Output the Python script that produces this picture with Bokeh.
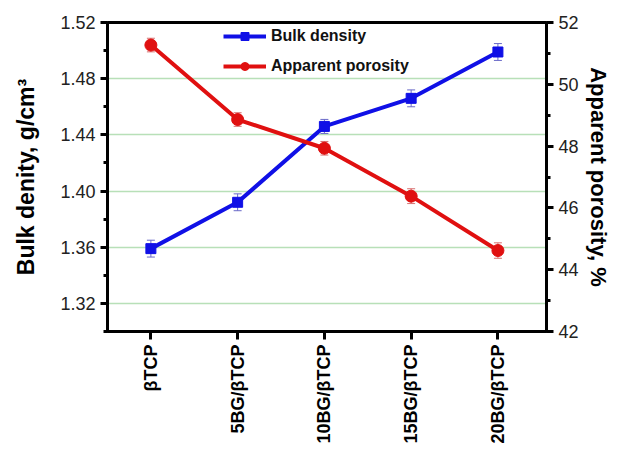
import math
from bokeh.plotting import figure
from bokeh.models import (Range1d, LinearAxis, FixedTicker, Whisker, ColumnDataSource,
                          Legend, LegendItem, NumeralTickFormatter)
from bokeh.embed import file_html
from bokeh.resources import INLINE

categories = ["βTCP", "5BG/βTCP", "10BG/βTCP", "15BG/βTCP", "20BG/βTCP"]
bulk_density = [1.359, 1.392, 1.446, 1.466, 1.499]
bulk_err = [0.006, 0.006, 0.005, 0.006, 0.006]
porosity = [51.27, 48.86, 47.93, 46.38, 44.62]
porosity_err = [0.22, 0.22, 0.22, 0.24, 0.25]
left_ticks = [1.32, 1.36, 1.40, 1.44, 1.48, 1.52]
left_minor = [1.30, 1.34, 1.38, 1.42, 1.46, 1.50]
right_ticks = [42, 44, 46, 48, 50, 52]
right_minor = [43, 45, 47, 49, 51]

FONT = "Liberation Sans"
xs = list(range(len(categories)))

p = figure(width=613, height=446, output_backend="svg", toolbar_location=None,
           x_range=Range1d(-0.5, 4.56), y_range=Range1d(1.30, 1.52),
           min_border_left=107, min_border_right=64, min_border_top=22, min_border_bottom=113)
p.extra_y_ranges = {"por": Range1d(42, 52)}

p.outline_line_color = "black"
p.outline_line_width = 3
p.background_fill_color = "white"
p.border_fill_color = "white"

# x axis
xa = p.xaxis[0]
xa.ticker = FixedTicker(ticks=xs)
xa.major_label_overrides = {i: c for i, c in enumerate(categories)}
xa.major_label_orientation = math.pi / 2
xa.major_label_text_font = FONT
xa.major_label_text_font_style = "bold"
xa.major_label_text_font_size = "18px"
xa.major_label_text_color = "black"
xa.axis_line_width = 3
xa.major_tick_line_width = 3
xa.major_tick_out = 8
xa.major_tick_in = 0
xa.minor_tick_line_color = None

# left axis
ya = p.yaxis[0]
ya.ticker = FixedTicker(ticks=left_ticks, minor_ticks=left_minor)
ya.formatter = NumeralTickFormatter(format="0.00")
ya.axis_label = "Bulk denity, g/cm³"
ya.axis_label_text_font = FONT
ya.axis_label_text_font_style = "bold"
ya.axis_label_text_font_size = "23px"
ya.axis_label_text_color = "black"
ya.axis_label_standoff = 18
ya.major_label_text_font = FONT
ya.major_label_text_font_size = "18px"
ya.major_label_text_color = "#222"
ya.axis_line_width = 3
ya.major_tick_line_width = 3
ya.major_tick_out = 7
ya.major_tick_in = 0
ya.minor_tick_line_width = 3
ya.minor_tick_out = 4
ya.minor_tick_in = 0

# right axis
ra = LinearAxis(y_range_name="por", ticker=FixedTicker(ticks=right_ticks, minor_ticks=right_minor))
ra.axis_label = "Apparent porosity, %"
ra.axis_label_text_font = FONT
ra.axis_label_text_font_style = "bold"
ra.axis_label_text_font_size = "22px"
ra.axis_label_text_color = "black"
ra.axis_label_standoff = 4
ra.major_label_text_font = FONT
ra.major_label_text_font_size = "18px"
ra.major_label_text_color = "#222"
ra.axis_line_width = 3
ra.major_tick_line_width = 3
ra.major_tick_out = 7
ra.major_tick_in = 0
ra.minor_tick_line_width = 3
ra.minor_tick_out = 4
ra.minor_tick_in = 0
p.add_layout(ra, "right")

p.xgrid.grid_line_color = None
p.ygrid.grid_line_color = "#b8e0b8"
p.ygrid.grid_line_width = 1.5

# data
src_b = ColumnDataSource(dict(x=xs, y=bulk_density,
                              lo=[v - e for v, e in zip(bulk_density, bulk_err)],
                              hi=[v + e for v, e in zip(bulk_density, bulk_err)]))
src_p = ColumnDataSource(dict(x=xs, y=porosity,
                              lo=[v - e for v, e in zip(porosity, porosity_err)],
                              hi=[v + e for v, e in zip(porosity, porosity_err)]))

wb = Whisker(source=src_b, base="x", lower="lo", upper="hi",
             line_color="#6a6ac8", line_width=1)
wb.upper_head.line_color = "#6a6ac8"; wb.lower_head.line_color = "#6a6ac8"
wb.upper_head.size = 8; wb.lower_head.size = 8
p.add_layout(wb)
wp = Whisker(source=src_p, base="x", lower="lo", upper="hi", y_range_name="por",
             line_color="#d87070", line_width=1)
wp.upper_head.line_color = "#d87070"; wp.lower_head.line_color = "#d87070"
wp.upper_head.size = 8; wp.lower_head.size = 8
p.add_layout(wp)

BLUE = "#1010e6"
RED = "#e01010"
lb = p.line("x", "y", source=src_b, line_color=BLUE, line_width=4)
sb = p.scatter("x", "y", source=src_b, marker="square", size=10, fill_color=BLUE, line_color=BLUE)
lp = p.line("x", "y", source=src_p, y_range_name="por", line_color=RED, line_width=4)
sp = p.scatter("x", "y", source=src_p, y_range_name="por", marker="circle", size=12,
               fill_color=RED, line_color=RED)

legend = Legend(items=[LegendItem(label="Bulk density", renderers=[lb, sb]),
                       LegendItem(label="Apparent porosity", renderers=[lp, sp])],
                location=(116, 255))
legend.border_line_alpha = 0
legend.background_fill_alpha = 0
legend.padding = 0
legend.margin = 0
legend.spacing = 10
legend.glyph_width = 43
legend.glyph_height = 20
legend.label_standoff = 5
legend.label_text_font = FONT
legend.label_text_font_style = "bold"
legend.label_text_font_size = "16px"
legend.label_text_color = "#111"
p.add_layout(legend, "center")

open("out.html", "w").write(file_html(p, INLINE))
